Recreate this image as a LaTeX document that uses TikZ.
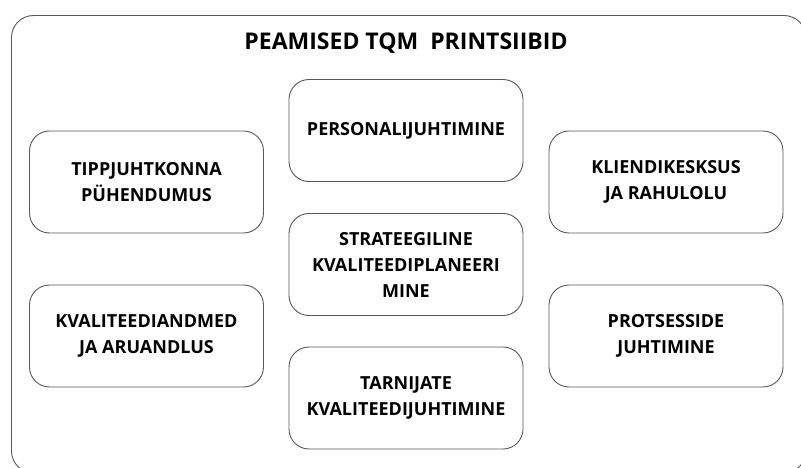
\documentclass[tikz,border=0pt]{standalone}
\usepackage{fontspec}
\setmainfont{Open Sans}
\begin{document}
\begin{tikzpicture}[x=1pt,y=-1pt,
  frame/.style={draw=black!65, line width=0.9pt, rounded corners=22pt},
  pbox/.style={draw=black!65, line width=0.9pt, rounded corners=20pt, minimum width=234pt, minimum height=102pt, align=center, font=\fontsize{18}{26}\selectfont\bfseries, text=black, inner sep=0pt},
  titlestyle/.style={font=\fontsize{23}{28}\selectfont\bfseries, text=black}]
\useasboundingbox (0,0) rectangle (801,468);
\clip (0,0) rectangle (801,468);
\fill[white] (0,0) rectangle (801,468);
\draw[frame] (11.5,15.5) rectangle (806,473);
\node[titlestyle] (title) at (406,43) {PEAMISED TQM\ \ PRINTSIIBID};
\node[pbox] (tipp) at (146.5,182) {TIPPJUHTKONNA\\PÜHENDUMUS};
\node[pbox] (pers) at (406,130.5) {PERSONALIJUHTIMINE};
\node[pbox] (klie) at (666,182) {KLIENDIKESKSUS\\JA RAHULOLU};
\node[pbox] (strat) at (406,264.5) {STRATEEGILINE\\KVALITEEDIPLANEERI\\MINE};
\node[pbox] (kval) at (146.5,336) {KVALITEEDIANDMED\\JA ARUANDLUS};
\node[pbox] (prot) at (666,336) {PROTSESSIDE\\JUHTIMINE};
\node[pbox] (tarn) at (406,398) {TARNIJATE\\KVALITEEDIJUHTIMINE};
\end{tikzpicture}
\end{document}
